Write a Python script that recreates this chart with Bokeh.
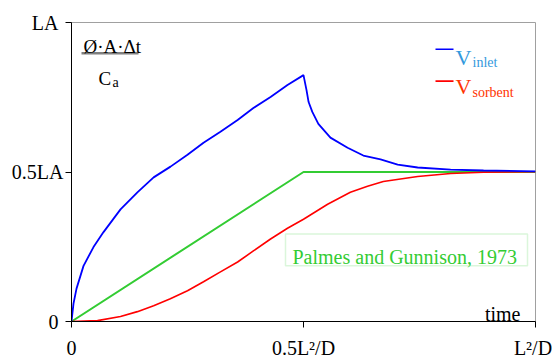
from bokeh.plotting import figure
from bokeh.models import Range1d, FixedTicker, Label, BoxAnnotation
from bokeh.embed import file_html
from bokeh.resources import INLINE

# ---- data (fractions of L^2/D and LA) ----
blue_x = [0, 0.0043, 0.0108, 0.0259, 0.0474, 0.069, 0.1056, 0.142, 0.177, 0.2134,
          0.25, 0.2845, 0.321, 0.358, 0.392, 0.429, 0.4655, 0.5, 0.5065, 0.511,
          0.519, 0.532, 0.558, 0.595, 0.629, 0.666, 0.703, 0.746, 0.817, 0.888, 1.0]
blue_y = [0, 0.060, 0.110, 0.186, 0.249, 0.299, 0.375, 0.432, 0.482, 0.518,
          0.558, 0.598, 0.635, 0.674, 0.714, 0.751, 0.791, 0.824, 0.774, 0.734,
          0.701, 0.661, 0.615, 0.581, 0.555, 0.542, 0.525, 0.515, 0.508, 0.505, 0.502]
red_x = [0, 0.056, 0.1056, 0.142, 0.177, 0.213, 0.25, 0.2845, 0.321, 0.358, 0.392,
         0.429, 0.4655, 0.5, 0.552, 0.601, 0.638, 0.672, 0.746, 0.817, 0.888, 1.0]
red_y = [0, 0.003, 0.017, 0.033, 0.053, 0.076, 0.103, 0.133, 0.166, 0.199, 0.236,
         0.276, 0.312, 0.342, 0.392, 0.432, 0.452, 0.468, 0.485, 0.495, 0.499, 0.501]
green_x = [0, 0.5, 1.0]
green_y = [0, 0.5, 0.5]

x_ticks = [0, 0.5, 1]
x_tick_labels = ["0", "0.5L\u00b2/D", "L\u00b2/D\u00a0"]
y_ticks = [0, 0.5, 1]
y_tick_labels = ["0\u00a0", "0.5LA", "LA\u00a0"]

FONT = "Liberation Serif"

W, H = 557, 361
ML, MT, MR, MB = 71, 22, 22, 38
FW = W - ML - MR
FH = H - MT - MB

p = figure(width=W, height=H, output_backend="svg", toolbar_location=None,
           x_range=Range1d(0, 1), y_range=Range1d(0, 1),
           min_border_left=ML, min_border_top=MT, min_border_right=MR,
           min_border_bottom=MB)
p.grid.visible = False
p.outline_line_color = "#a0a0a0"
p.outline_line_width = 1
p.background_fill_color = "white"
p.border_fill_color = "white"

for ax, ticks, labels in ((p.xaxis, x_ticks, x_tick_labels),
                          (p.yaxis, y_ticks, y_tick_labels)):
    ax.ticker = FixedTicker(ticks=ticks)
    ax.major_label_overrides = {t: s for t, s in zip(ticks, labels)}
    ax.major_label_text_font = FONT
    ax.major_label_text_font_size = "20px"
    ax.major_label_text_color = "black"
    ax.major_tick_out = 6
    ax.major_tick_in = 0
    ax.minor_tick_out = 0
    ax.minor_tick_in = 0
    ax.axis_line_color = "black"
    ax.major_tick_line_color = "black"
p.xaxis.major_label_standoff = 9
p.yaxis.major_label_standoff = 2

# helpers: page pixel -> data (figure at page origin)
def fx(px):
    return (px - ML) / FW

def fy(py):
    return ((MT + FH) - py) / FH

# curves
p.line(green_x, green_y, line_color="#33cc33", line_width=2)
p.line(red_x, red_y, line_color="#ff0000", line_width=1.6)
p.line(blue_x, blue_y, line_color="#0000ff", line_width=1.8)

def lab(text, px, py, size, color="black", align="left"):
    p.add_layout(Label(x=fx(px), y=fy(py), text=text, text_font=FONT,
                       text_font_size=f"{size}px", text_color=color,
                       text_align=align, text_baseline="alphabetic"))

# formula
lab("\u00d8\u00b7A\u00b7\u0394t", 83, 46, 19)
p.segment(x0=[fx(81)], y0=[fy(53)], x1=[fx(138)], y1=[fy(53)],
          line_color="#808080", line_width=2.5)
lab("C", 98, 78, 19)
lab("a", 112, 82, 14)

# legend
p.segment(x0=[fx(435)], y0=[fy(49)], x1=[fx(453)], y1=[fy(49)],
          line_color="#0000ff", line_width=1.6)
lab("V", 455, 57, 22, color="#3399dd")
lab("inlet", 472, 62, 14, color="#3399dd")
p.segment(x0=[fx(435)], y0=[fy(81)], x1=[fx(453)], y1=[fy(81)],
          line_color="#ff0000", line_width=1.6)
lab("V", 455, 86, 22, color="#ff3300")
lab("sorbent", 472, 92, 14, color="#ff3300")

# citation box
p.add_layout(BoxAnnotation(left=fx(285), right=fx(527), top=fy(235), bottom=fy(267),
                           fill_color="white", fill_alpha=1.0,
                           line_color="#88e088", line_width=1.5))
lab("Palmes and Gunnison, 1973", 292, 258, 20, color="#33cc33")

lab("time", 520, 315, 20, align="right")

open("out.html", "w").write(file_html(p, INLINE))
